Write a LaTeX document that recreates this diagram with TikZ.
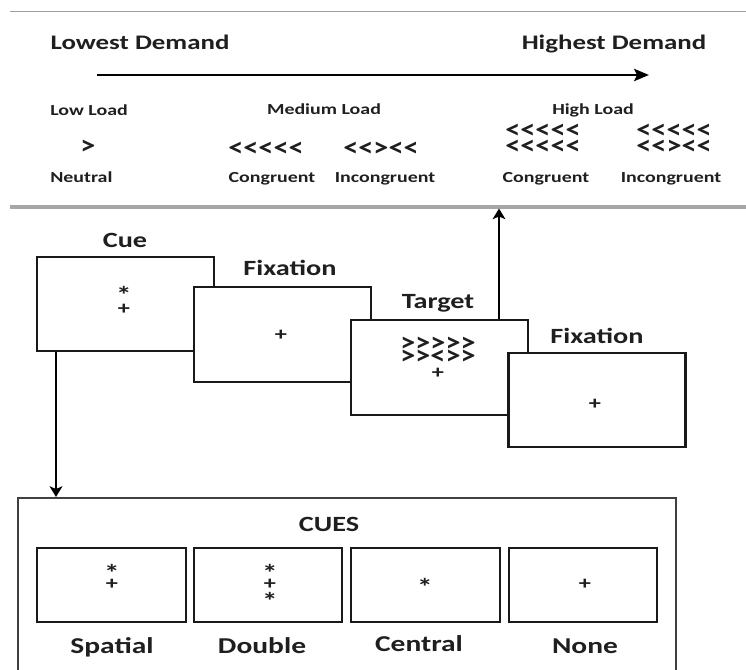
\documentclass[tikz,border=0pt]{standalone}
\usepackage{fontspec}
\setmainfont{Carlito}
\newfontfamily\chevfont{Carlito}[Ligatures=TeXOff]
\usepackage{graphicx}
\usetikzlibrary{arrows.meta}
\newcommand{\sx}[1]{\scalebox{1.3}[1]{#1}}
\newcommand{\cx}[1]{\scalebox{1.13}[1]{#1}}
\begin{document}
\begin{tikzpicture}[x=0.75pt,y=-0.75pt,
  txtbase/.style={inner sep=0pt, anchor=base, text=black!88},
  demand/.style={txtbase, font=\bfseries\fontsize{15.5}{18}\selectfont},
  load/.style={txtbase, font=\bfseries\fontsize{11.5}{14}\selectfont},
  chev/.style={txtbase, font=\chevfont\bfseries\fontsize{20}{22}\selectfont},
  screenlabel/.style={txtbase, font=\bfseries\fontsize{16.3}{19}\selectfont},
  cuename/.style={txtbase, font=\bfseries\fontsize{17}{20}\selectfont},
  symb/.style={txtbase, font=\bfseries\fontsize{14}{15}\selectfont},
  star/.style={txtbase, font=\bfseries\fontsize{18}{15}\selectfont},
  screen/.style={draw=black!90, line width=1.7pt, fill=white, minimum width=132.75pt, minimum height=70.9pt, inner sep=0pt},
  cuebox/.style={draw=black!90, line width=1.7pt, minimum width=111.5pt, minimum height=55.5pt, inner sep=0pt},
  arr/.style={line width=1.8pt, -{Stealth[length=8pt,width=9.5pt,inset=2pt]}}
]
\useasboundingbox (0,0) rectangle (746,670);
% top panel rules
\coordinate (tl) at (10,11.5); \coordinate (tr) at (746,11.5);
\coordinate (bl) at (10,207); \coordinate (br) at (746,207);
\draw[gray!75, line width=1.2pt] (tl) -- (tr);
\draw[gray!70, line width=2.6pt] (bl) -- (br);
% demand
\node[demand] (lowd) at (140,50) {\sx{Lowest Demand}};
\node[demand] (highd) at (614,50) {\sx{Highest Demand}};
\coordinate (a1) at (97,75); \coordinate (a2) at (649,75);
\draw[line width=2.2pt, -{Stealth[length=11pt,width=9pt,inset=2pt]}] (a1) -- (a2);
% loads
\node[load, anchor=base west] (lowl) at (50,116) {\sx{Low Load}};
\node[load] (medl) at (324,115) {\sx{Medium Load}};
\node[load] (highl) at (593,115) {\sx{High Load}};
\node[chev] (c0) at (88,155) {\cx{>}};
\node[chev] (c1) at (266,157) {\cx{<<<<<}};
\node[chev] (c2) at (381,157) {\cx{<<><<}};
\node[chev] (c3) at (543,139) {\cx{<<<<<}};
\node[chev] (c4) at (543,155) {\cx{<<<<<}};
\node[chev] (c5) at (674,139) {\cx{<<<<<}};
\node[chev] (c6) at (674,155) {\cx{<<><<}};
\node[load, anchor=base west] (neu) at (50,183) {\sx{Neutral}};
\node[load] (con1) at (272,183) {\sx{Congruent}};
\node[load] (inc1) at (385,183) {\sx{Incongruent}};
\node[load] (con2) at (546,183) {\sx{Congruent}};
\node[load] (inc2) at (671,183) {\sx{Incongruent}};
% screens
\node[screen] (cue) at (125.5,304) {};
\node[screen] (fixa) at (282.5,334.5) {};
\node[screen] (targ) at (439.75,367.5) {};
\node[screen] (fixb) at (597,400) {};
\node[screenlabel] (lcue) at (125,248) {\sx{Cue}};
\node[screenlabel] (lfixa) at (290,276) {\sx{Fixation}};
\node[screenlabel] (ltarg) at (438,309) {\sx{Target}};
\node[screenlabel] (lfixb) at (597,344) {\sx{Fixation}};
\node[star] (s1) at (124,304) {\sx{*}};
\node[symb] (s2) at (124,314.5) {\sx{+}};
\node[symb] (s3) at (281,340.5) {\sx{+}};
\node[chev] (t1) at (438,351) {\cx{>>>>>}};
\node[chev] (t2) at (438,364) {\cx{>><>>}};
\node[symb] (s4) at (438,378.5) {\sx{+}};
\node[symb] (s5) at (595,409.5) {\sx{+}};
% arrows
\coordinate (up) at (499,208.5);
\draw[arr] (up |- targ.north) -- (up);
\coordinate (dn) at (56,497);
\draw[arr] (dn |- cue.south) -- (dn);
% cues panel
\coordinate (p1) at (18,672); \coordinate (p2) at (18,498);
\coordinate (p3) at (676,498); \coordinate (p4) at (676,672);
\draw[black!75, line width=1.3pt] (p1) -- (p2) -- (p3) -- (p4);
\node[screenlabel] (cues) at (329,531) {\sx{CUES}};
\node[cuebox] (b1) at (111.5,585) {};
\node[cuebox] (b2) at (268,585) {};
\node[cuebox] (b3) at (425.5,585) {};
\node[cuebox] (b4) at (583,585) {};
\node[star] (q1) at (112,581) {\sx{*}};
\node[symb] (q2) at (112,589.5) {\sx{+}};
\node[star] (q3) at (270,581) {\sx{*}};
\node[symb] (q4) at (270,589.5) {\sx{+}};
\node[star] (q5) at (270,609) {\sx{*}};
\node[star] (q6) at (425,595) {\sx{*}};
\node[symb] (q7) at (585,589.5) {\sx{+}};
\node[cuename] (n1) at (112,653) {\sx{Spatial}};
\node[cuename] (n2) at (262,653) {\sx{Double}};
\node[cuename] (n3) at (419,651) {\sx{Central}};
\node[cuename] (n4) at (585,653) {\sx{None}};
\end{tikzpicture}
\end{document}
